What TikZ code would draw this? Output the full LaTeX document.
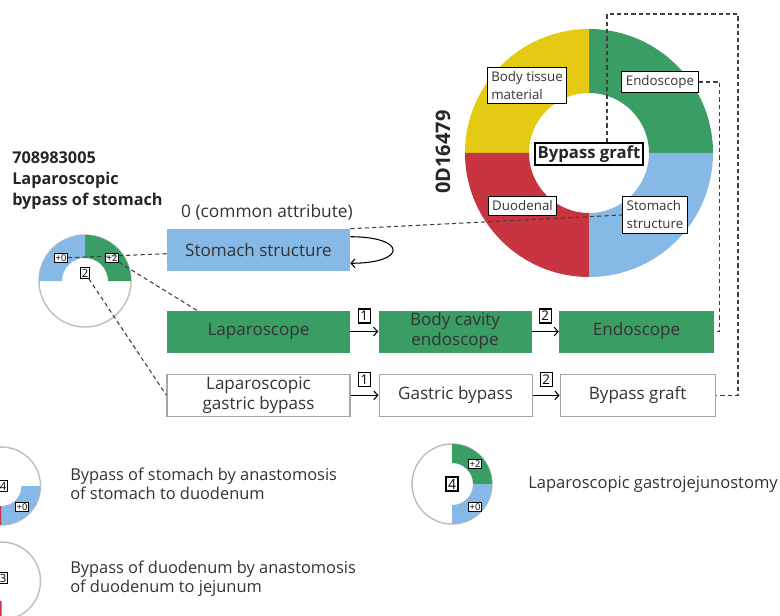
\documentclass[tikz,border=0pt]{standalone}
\usepackage{fontspec}
\setmainfont{Open Sans}
\usetikzlibrary{arrows.meta,positioning}

\definecolor{grn}{HTML}{3A9D63}
\definecolor{blu}{HTML}{86B9E6}
\definecolor{ylw}{HTML}{E4CA12}
\definecolor{rd}{HTML}{C8343F}
\definecolor{txt}{HTML}{333333}

% one quarter of a ring: centre, from, to, outer radius, inner radius, colour
\newcommand{\ringpart}[6]{%
  \fill[#6, shift={(#1)}] (#2:#4) arc[start angle=#2, end angle=#3, radius=#4]
    -- (#3:#5) arc[start angle=#3, end angle=#2, radius=#5] -- cycle;}

\begin{document}
\begin{tikzpicture}[
            x = 0.75pt, y = 0.75pt, % one unit is one pixel of the page
            > = {Straight Barb[length=3pt, width=6.5pt]}, % arrow head style
            node distance = 21pt, % gap between boxes in a row
            text = txt,
            box/.style = {minimum height=31.5pt, inner sep=1pt, align=center,
                          font=\fontsize{12.8}{15}\selectfont},
            wide/.style = {minimum width=137.25pt},
            mid/.style = {minimum width=114.75pt},
            last/.style = {minimum width=116.25pt},
            whtbox/.style = {box, draw=black!35, line width=0.8pt, fill=white},
            num/.style = {draw=black, line width=0.8pt, inner sep=1pt, text=black,
                          minimum width=9pt, minimum height=10.5pt,
                          font=\fontsize{10}{10}\selectfont},
            tag/.style = {draw=black, line width=0.9pt, fill=white, inner sep=3pt,
                          align=left, font=\fontsize{10}{13.5}\selectfont},
            mini/.style = {draw=black, line width=0.8pt, fill=white, inner sep=0.8pt,
                           text=black, font=\fontsize{7}{7}\selectfont},
            rim/.style = {draw=black!25, line width=1.1pt},
            link/.style = {draw=black!75, line width=0.8pt, dash pattern=on 3.2pt off 2.25pt},
            legend/.style = {anchor=west, align=left, inner sep=0pt,
                             font=\fontsize{12.3}{14.5}\selectfont}
        ]
	\useasboundingbox (0,0) rectangle (780,-616);

	% the big ring
	\ringpart{589,-153}{0}{90}{124}{60}{grn}
	\ringpart{589,-153}{90}{180}{124}{60}{ylw}
	\ringpart{589,-153}{180}{270}{124}{60}{rd}
	\ringpart{589,-153}{270}{360}{124}{60}{blu}

	% the small rings
	\draw[rim] (85,-281) circle[radius=46];
	\ringpart{85,-281}{0}{90}{46}{23}{grn}
	\ringpart{85,-281}{90}{180}{46}{23}{blu}
	\draw[rim] (1.5,-486) circle[radius=39];
	\ringpart{1.5,-486}{180}{270}{39}{20}{rd}
	\ringpart{1.5,-486}{270}{360}{39}{20}{blu}
	\draw[rim] (1.5,-581) circle[radius=39];
	\ringpart{1.5,-581}{180}{270}{39}{20}{rd}
	\draw[rim] (452,-484) circle[radius=40];
	\ringpart{452,-484}{0}{90}{40}{21}{grn}
	\ringpart{452,-484}{270}{360}{40}{21}{blu}

	\node[anchor=north west, align=left, text=black!85, inner sep=0pt,
	      font=\bfseries\fontsize{12.2}{15.75}\selectfont] (ttl) at (12,-151)
	      {708983005\\Laparoscopic\\bypass of stomach};
	\node[rotate=90, text=black!85, font=\bfseries\fontsize{15}{15}\selectfont] (code) at (443,-152) {0D16479};

	\node[mini] (p0) at (61,-258) {+0};
	\node[mini] (p2) at (112,-258) {+2};
	\node[mini, font=\fontsize{8.5}{8.5}\selectfont] (n2) at (85,-273) {2};

	\node[tag] (ltis) at (527,-85.5) {Body tissue\\material};
	\node[tag] (lendo) at (660,-82) {Endoscope};
	\node[tag] (lduo) at (522.5,-206) {Duodenal};
	\node[tag] (lstom) at (655,-215) {Stomach\\structure};
	\node[draw=black, line width=1pt, fill=white, inner sep=2pt, text=black!85,
	      font=\bfseries\fontsize{12.5}{14}\selectfont] (lbg) at (589,-154) {Bypass graft};

	\node[font=\fontsize{13}{15}\selectfont] (cattr) at (267,-212) {0 (common attribute)};
	\node[box, wide, fill=blu] (stom) at (258.5,-250) {Stomach structure};
	\node[box, wide, fill=grn, below=29.25pt of stom] (lap) {Laparoscope};
	\node[box, mid, fill=grn, right=of lap] (bce) {Body cavity\\endoscope};
	\node[box, last, fill=grn, right=20.25pt of bce] (endo) {Endoscope};
	\node[whtbox, wide, below=15.75pt of lap] (lgb) {Laparoscopic\\gastric bypass};
	\node[whtbox, mid, right=of lgb] (gb) {Gastric bypass};
	\node[whtbox, last, right=20.25pt of gb] (bg) {Bypass graft};

	\draw[->, line width=0.8pt] (lap) -- node[num, above=6pt] {1} (bce);
	\draw[->, line width=0.8pt] (bce) -- node[num, above=6pt] {2} (endo);
	\draw[->, line width=0.8pt] (lgb) -- node[num, above=6pt] {1} (gb);
	\draw[->, line width=0.8pt] (gb) -- node[num, above=6pt] {2} (bg);
	\draw[->, line width=0.8pt] ([yshift=-6pt]stom.north east) to[out=0, in=0, looseness=5.5] ([yshift=6pt]stom.south east);

	\coordinate (corner) at (738,-14);
	\draw[link] (p0) -- (stom);
	\draw[link] (p2) -- (lap.161);
	\draw[link] (n2) -- (lgb.west);
	\draw[link] (stom.north east) -- (lstom.west);
	\draw[link] ([xshift=13.5pt]lbg.north) |- (corner) |- (bg.east);
	\draw[link] (lendo.east) -- ++(21,0) |- (endo.east);

	% legend
	\node[mini, font=\fontsize{8.5}{8.5}\selectfont] (q4) at (3,-486) {4};
	\node[mini] (q0) at (22,-507) {+0};
	\node[legend] (t1) at (70,-484) {Bypass of stomach by anastomosis\\of stomach to duodenum};
	\node[mini, font=\fontsize{8.5}{8.5}\selectfont] (r3) at (3,-578) {3};
	\node[legend] (t2) at (70,-579) {Bypass of duodenum by anastomosis\\of duodenum to jejunum};
	\node[mini, font=\fontsize{10.5}{10.5}\selectfont, inner sep=1.5pt] (s4) at (452,-484) {4};
	\node[mini] (s2) at (475,-464) {+2};
	\node[mini] (s0) at (475,-507) {+0};
	\node[legend, font=\fontsize{12.4}{14.5}\selectfont] (t3) at (528,-484) {Laparoscopic gastrojejunostomy};

\end{tikzpicture}
\end{document}
